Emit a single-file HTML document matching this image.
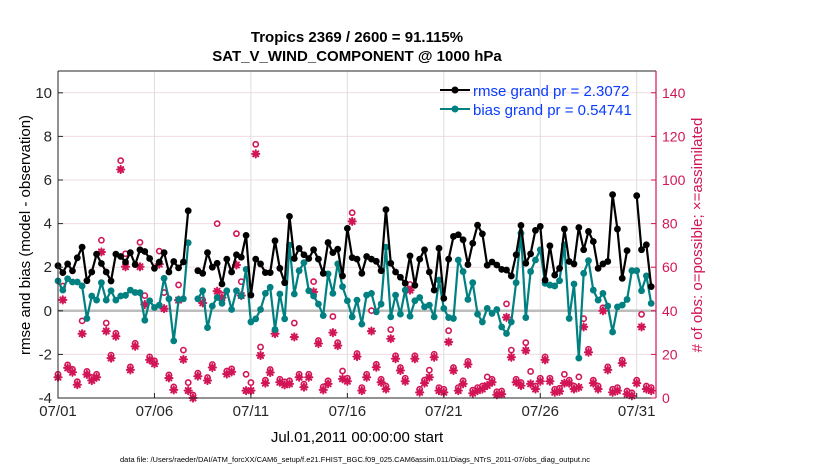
<!DOCTYPE html>
<html><head><meta charset="utf-8"><style>
html,body{margin:0;padding:0;background:#fff;}
svg text{font-family:"Liberation Sans",Arial,sans-serif;}
</style></head><body>
<svg id="chart" width="830" height="470" xmlns="http://www.w3.org/2000/svg">
<rect width="830" height="470" fill="#fff"/>
<text x="357" y="42" text-anchor="middle" font-size="15" font-weight="bold">Tropics 2369 / 2600 = 91.115%</text>
<text x="357" y="61" text-anchor="middle" font-size="15" font-weight="bold">SAT_V_WIND_COMPONENT @ 1000 hPa</text>
<g id="grid"></g>
<g id="marks"></g>
<g id="axes"></g>
<text transform="translate(30,235) rotate(-90)" text-anchor="middle" font-size="15">rmse and bias (model - observation)</text>
<text transform="translate(702,235) rotate(-90)" text-anchor="middle" font-size="15" fill="#d11557"># of obs: o=possible; ×=assimilated</text>
<text x="357" y="442" text-anchor="middle" font-size="15">Jul.01,2011 00:00:00 start</text>
<text x="355" y="462" text-anchor="middle" font-size="7.5">data file: /Users/raeder/DAI/ATM_forcXX/CAM6_setup/f.e21.FHIST_BGC.f09_025.CAM6assim.011/Diags_NTrS_2011-07/obs_diag_output.nc</text>
<g id="legend">
<line x1="440" y1="90" x2="470" y2="90" stroke="#000" stroke-width="2"/>
<circle cx="455" cy="90" r="3.5" fill="#000"/>
<text x="473" y="96" font-size="15" fill="#0a3cff">rmse grand pr = 2.3072</text>
<line x1="440" y1="109" x2="470" y2="109" stroke="#008080" stroke-width="2"/>
<circle cx="455" cy="109" r="3.5" fill="#008080"/>
<text x="473" y="115" font-size="15" fill="#0a3cff">bias grand pr = 0.54741</text>
</g>
</svg>
<script>
const rmse = [2.07,1.75,2.15,1.83,2.43,2.92,1.38,1.78,2.6,2.17,1.78,1.37,2.6,2.49,2.24,2.67,2.12,2.8,2.72,2.4,1.95,2.24,2.67,1.78,2.26,1.97,2.24,4.59,
null,1.84,
1.72,2.67,2.0,2.18,1.23,2.37,1.78,2.57,2.46,3.46,0.72,2.37,2.15,1.75,1.75,3.21,1.95,1.29,4.33,2.4,2.86,2.57,2.4,2.8,2.37,1.72,3.13,2.67,2.83,1.6,3.78,2.44,2.37,
1.72,2.49,2.37,2.27,1.84,4.64,2.18,1.78,1.54,1.26,2.52,1.17,2.37,2.8,1.78,0.95,2.87,0.57,2.37,3.41,3.49,3.26,2.12,3.1,3.93,3.53,2.09,2.24,2.1,
1.9,1.87,1.6,2.57,3.92,2.18,2.61,3.69,3.87,1.41,2.98,1.64,1.95,3.75,2.26,2.15,3.82,2.8,3.64,3.18,1.95,2.15,2.26,5.33,3.75,1.49,2.76,null,5.28,2.8,3.03,1.11];
const bias = [1.37,0.95,1.47,1.32,1.32,1.14,-0.35,0.68,0.49,1.29,0.49,0.92,0.49,0.68,0.71,0.95,0.84,0.83,-0.43,0.46,0.15,0.26,1.49,0.55,-1.38,0.52,0.55,3.12,
null,0.55,
0.92,-0.77,0.22,0.61,0.34,0.92,0.06,0.92,0.68,1.9,-0.51,-0.37,0.06,0.8,1.08,-0.86,0.77,-0.37,3.01,0.77,1.84,2.21,0.92,0.68,0.31,-0.22,1.69,0.8,2.15,1.11,0.46,-0.28,0.49,
-0.61,0.72,0.8,-0.05,0.31,2.92,-0.28,0.72,-0.15,0.95,-0.25,0.46,0.61,0.18,0.26,-0.28,1.41,0.11,-0.31,-0.35,2.33,1.8,0.52,1.29,-0.15,-0.51,0.11,-0.12,0.06,
-0.74,-1.04,-0.51,1.29,3.56,-0.31,1.8,2.33,2.8,1.26,1.18,1.14,1.38,3.03,-0.35,1.23,-2.17,1.72,2.3,0.95,0.49,0.8,0.22,-0.97,0.18,0.26,0.52,1.84,1.84,0.92,1.6,0.34];
const assimilated = [9.5,45,13.8,11.8,6.1,29.5,10.8,8,9.5,67,30.7,18.3,28.3,104.8,60.2,12.9,23.7,60.2,42.9,17.5,15.7,61.4,41,9.2,3.7,44.9,17.7,3.4,0,
10,
43.6,8,14,49,46,11,12,61,47,3.4,3.4,112,19.5,6.8,11.7,29.5,7.2,6,6.5,28,9.5,5,9.5,48.7,25,3.7,6.5,30,24,8.8,7.7,81,19,
3.4,9.5,30.7,14.1,7.2,4.1,27.2,18,12.6,7.7,49.5,18,2.6,6.8,9.5,18.7,3.4,2.6,25.7,12.6,3.4,6.5,15.4,2.2,3.4,4.1,5.7,7.2,1.5,
1.8,37,18.7,7.2,5.7,21.8,6.5,4.1,7.7,17.5,7.7,2.6,3.1,6.8,6.8,4.1,4.9,32.6,21,6.8,4.1,40,12.9,2.6,3.4,16,1.8,1,6.8,32.6,4.1,3.4];
const possible = [9.5,50,13.8,11.8,6.1,34,10.8,8,9.5,71,33,18.3,28.3,107.5,64.8,12.9,23.7,70,45.6,17.5,15.7,66,47,9.2,3.7,50.5,20.6,5.7,0,
10,
43.6,8,14,78.6,46,11,12,74,52,9.5,5.7,115,22,6.8,11.7,29.5,7.2,6,6.5,33,9.5,5,9.5,52,25,3.7,6.5,36,24,11,7.7,83.6,19,
3.4,9.5,38.7,14.1,7.2,4.1,30,18,12.6,7.7,50.7,18,2.6,6.8,11.4,18.7,3.4,2.6,29.5,12.6,3.4,6.5,15.4,2.2,3.4,4.1,8.3,7.2,1.5,
1.8,41.8,20.6,7.2,5.7,24,10.8,4.1,7.7,17.5,7.7,2.6,3.1,9.5,6.8,4.1,8.3,35,21,6.8,4.1,40,12.9,2.6,3.4,16,1.8,1,6.8,37,4.1,3.4];
const leftTicks = [-4,-2,0,2,4,6,8,10];
const rightTicks = [0,20,40,60,80,100,120,140];
const dayTicks = [0,5,10,15,20,25,30];
const dayLabels = ["07/01","07/06","07/11","07/16","07/21","07/26","07/31"];

const NS = "http://www.w3.org/2000/svg";
const X0 = 58, X1 = 656, Y0 = 71, Y1 = 398;
const DAYS = 31, PER_DAY = 4;
function xDay(d){ return X0 + (d / DAYS) * (X1 - X0); }
function xIdx(i){ return xDay(i / PER_DAY); }
function yL(v){ return Y1 - (v - (-4)) / 15 * (Y1 - Y0); }
function yR(c){ return Y1 - c / 150 * (Y1 - Y0); }
function mk(tag, attrs, parent){
  const e = document.createElementNS(NS, tag);
  for (const k in attrs) e.setAttribute(k, attrs[k]);
  parent.appendChild(e); return e;
}
const gridG = document.getElementById('grid');
const marksG = document.getElementById('marks');
const axesG = document.getElementById('axes');
mk('rect', {x:X0, y:Y0, width:X1-X0, height:Y1-Y0, fill:'#fff'}, gridG);
leftTicks.forEach(v => {
  const l = mk('line', {x1:X0, x2:X1, y1:yL(v), y2:yL(v), stroke:'#f0dbe3', 'stroke-width':1}, gridG);
  
  
});
dayTicks.forEach(d => {
  const l = mk('line', {x1:xDay(d), x2:xDay(d), y1:Y0, y2:Y1, stroke:'#dddddd', 'stroke-width':1}, gridG);
  
  
});
const zl = mk('line', {x1:X0, x2:X1, y1:yL(0), y2:yL(0), stroke:'#bdbdbd', 'stroke-width':2.5}, gridG);



const cg = mk('g', {}, marksG);


possible.forEach((c, i) => {
  if (c === null) return;
  const e = mk('circle', {cx:xIdx(i), cy:yR(c) - 3, r:2.6, fill:'#fff', stroke:'#d11557', 'stroke-width':1.6}, cg);
  
  
});
assimilated.forEach((c, i) => {
  if (c === null) return;
  const x = xIdx(i), y = yR(c), s = 3.6;
  const g = mk('g', {stroke:'#d11557', 'stroke-width':2, 'stroke-linecap':'round'}, cg);
  
  
  mk('line', {x1:x-s, x2:x+s, y1:y, y2:y}, g);
  mk('line', {x1:x, x2:x, y1:y-s, y2:y+s}, g);
  mk('line', {x1:x-s*0.7, x2:x+s*0.7, y1:y-s*0.7, y2:y+s*0.7}, g);
  mk('line', {x1:x-s*0.7, x2:x+s*0.7, y1:y+s*0.7, y2:y-s*0.7}, g);
});

function series(vals, color, name){
  const g = mk('g', {}, marksG);
  
  
  let d = '', pen = false;
  vals.forEach((v, i) => {
    if (v === null) { pen = false; return; }
    d += (pen ? 'L' : 'M') + xIdx(i).toFixed(1) + ' ' + yL(v).toFixed(1) + ' ';
    pen = true;
  });
  const p = mk('path', {d:d, fill:'none', stroke:color, 'stroke-width':2.2, 'stroke-linejoin':'round'}, g);
  
  
  vals.forEach((v, i) => {
    if (v === null) return;
    const c = mk('circle', {cx:xIdx(i), cy:yL(v), r:3.4, fill:color}, g);
    
    
  });
}
series(bias, '#008080', 'bias-series');
series(rmse, '#000000', 'rmse-series');

const frame = mk('path', {d:`M${X0} ${Y0} L${X0} ${Y1} L${X1} ${Y1}`, fill:'none', stroke:'#262626', 'stroke-width':1}, axesG);


const topBorder = mk('line', {x1:X0, x2:X1, y1:Y0, y2:Y0, stroke:'#262626', 'stroke-width':1}, axesG);


const ra = mk('line', {x1:X1, x2:X1, y1:Y0, y2:Y1, stroke:'#d11557', 'stroke-width':1.2}, axesG);


leftTicks.forEach(v => {
  mk('line', {x1:X0, x2:X0+5, y1:yL(v), y2:yL(v), stroke:'#262626'}, axesG);
  const t = mk('text', {x:X0-6, y:yL(v)+5, 'text-anchor':'end', 'font-size':15, fill:'#262626'}, axesG);
  t.textContent = v;
  
  
});
rightTicks.forEach(c => {
  mk('line', {x1:X1-5, x2:X1, y1:yR(c), y2:yR(c), stroke:'#d11557'}, axesG);
  const t = mk('text', {x:X1+6, y:yR(c)+5, 'font-size':14, fill:'#d11557'}, axesG);
  t.textContent = c;
  
  
});
dayTicks.forEach((d, k) => {
  mk('line', {x1:xDay(d), x2:xDay(d), y1:Y1, y2:Y1-5, stroke:'#262626'}, axesG);
  const t = mk('text', {x:xDay(d), y:416, 'text-anchor':'middle', 'font-size':15, fill:'#262626'}, axesG);
  t.textContent = dayLabels[k];
  
  
});
</script>
</body></html>
